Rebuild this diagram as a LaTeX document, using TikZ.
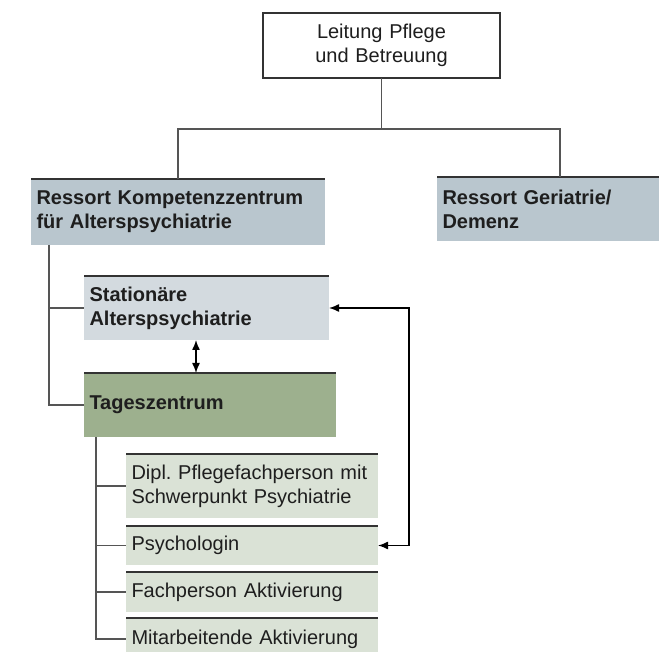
\documentclass[tikz,border=0pt]{standalone}
\usepackage{fontspec}
\setmainfont{Liberation Sans}
\usetikzlibrary{arrows.meta,calc}
\definecolor{ressortfill}{HTML}{B9C6CE}
\definecolor{statfill}{HTML}{D3DADF}
\definecolor{tagfill}{HTML}{9DB08E}
\definecolor{subfill}{HTML}{DAE2D6}
\definecolor{conncol}{HTML}{555555}
\definecolor{bordercol}{HTML}{333333}
\definecolor{txtcol}{HTML}{1E1E1E}
\newcommand{\orgregular}{\fontsize{20}{24}\selectfont\frenchspacing\fontdimen2\font=0.16em\relax}
\newcommand{\orgbold}{\fontsize{20}{24}\bfseries\frenchspacing\fontdimen2\font=0.2em\relax}
\begin{document}
\begin{tikzpicture}[x=1pt,y=-1pt,
  every node/.style={font=\orgregular, text=txtcol},
  orgbox/.style={anchor=north west, inner xsep=5.5pt, inner ysep=0pt, align=left, outer sep=0pt},
  boldbox/.style={orgbox, font=\orgbold},
  topline/.style={draw=bordercol, line width=1.5pt},
  conn/.style={draw=conncol, line width=1.3pt},
  arr/.style={draw=black, line width=1.4pt, {Latex[length=10pt,width=8pt]}-{Latex[length=10pt,width=8pt]}}
]
\useasboundingbox (0,0) rectangle (659,652);
\clip (0,0) rectangle (659,652);

% boxes
\node[orgbox, align=center, draw=bordercol, line width=1.3pt, fill=white,
      minimum width=237pt, minimum height=65pt, text width=226pt] (top) at (263,13)
      {Leitung Pflege\\und Betreuung};
\node[boldbox, fill=ressortfill, minimum width=294pt, minimum height=66pt, text width=283pt] (rk) at (31,179)
      {Ressort Kompetenzzentrum\\für Alterspsychiatrie};
\node[boldbox, fill=ressortfill, minimum width=222pt, minimum height=64pt, text width=211pt] (rg) at (437,177)
      {Ressort Geriatrie/\\Demenz};
\node[boldbox, fill=statfill, minimum width=245pt, minimum height=64pt, text width=234pt] (sa) at (84,276)
      {Stationäre\\Alterspsychiatrie};
\node[boldbox, fill=tagfill, minimum width=252pt, minimum height=64pt, text width=241pt] (tz) at (84,373)
      {Tageszentrum};
\node[orgbox, fill=subfill, minimum width=252pt, minimum height=64pt, text width=241pt] (dp) at (126,454)
      {Dipl. Pflegefachperson mit\\Schwerpunkt Psychiatrie};
\node[orgbox, fill=subfill, minimum width=252pt, minimum height=39pt, text width=241pt] (ps) at (126,526)
      {Psychologin};
\node[orgbox, fill=subfill, minimum width=252pt, minimum height=40pt, text width=241pt] (fa) at (126,572)
      {Fachperson Aktivierung};
\node[orgbox, fill=subfill, minimum width=252pt, minimum height=42pt, text width=241pt] (ma) at (126,618)
      {Mitarbeitende Aktivierung};

% top border lines of filled boxes
\foreach \n in {rk,rg,sa,tz,dp,ps,fa,ma}
  \draw[topline] (\n.north west) -- (\n.north east);

% connectors
\coordinate (bus) at (0,129);
\coordinate (gtap) at ($(rg.north west)+(123,0)$);
\draw[conn] (top.south) -- (top.south |- bus);
\draw[conn] (rk.north) |- (bus -| gtap) -- (gtap);

\coordinate (kbus) at ($(rk.south west)+(18,0)$);
\draw[conn] (kbus) |- (tz.west);
\draw[conn] (kbus |- sa.west) -- (sa.west);

\coordinate (tbus) at ($(tz.south west)+(12,0)$);
\draw[conn] (tbus) |- (ma.west);
\draw[conn] (tbus |- dp.west) -- (dp.west);
\draw[conn] (tbus |- ps.west) -- (ps.west);
\draw[conn] (tbus |- fa.west) -- (fa.west);

% arrows
\coordinate (da) at ($(sa.south west)+(112,0)$);
\draw[arr] (da) -- (da |- tz.north);
\draw[arr] (ps.east) -- ++(31,0) |- (sa.east);
\end{tikzpicture}
\end{document}
